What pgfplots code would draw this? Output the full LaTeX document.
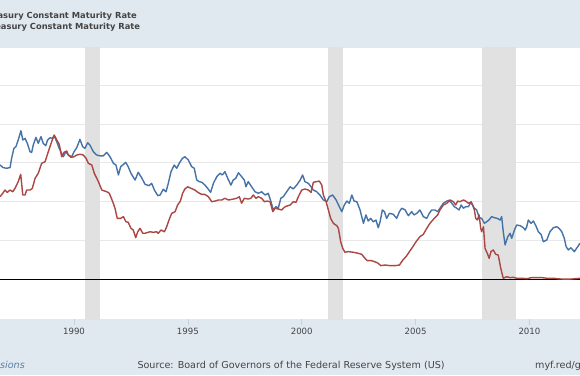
\documentclass[border=0pt]{standalone}
\usepackage{fontspec}
\setmainfont{DejaVu Sans}
\usepackage{pgfplots}
\pgfplotsset{compat=1.18}
\definecolor{band}{HTML}{E1E9F0}
\definecolor{rec}{HTML}{E1E1E1}
\definecolor{blueline}{HTML}{4572A7}
\definecolor{redline}{HTML}{AA4643}
\definecolor{txt}{HTML}{444444}
\definecolor{gridc}{HTML}{E8E8E8}
\definecolor{tickc}{HTML}{C4D0DC}
\definecolor{notec}{HTML}{5A7DA5}
\begin{document}
\begin{tikzpicture}
\useasboundingbox (0,0) rectangle (580pt,375pt);
\clip (0,0) rectangle (580pt,375pt);
\fill[white] (0,0) rectangle (580pt,375pt);
\fill[band] (0,0) rectangle (580pt,56pt);
\fill[band] (0,327.3pt) rectangle (580pt,375pt);
\begin{axis}[
  at={(0pt,56pt)}, anchor=south west,
  scale only axis, width=580pt, height=271.3pt,
  xmin=1986.75, xmax=2012.22, ymin=-2.54, ymax=14.90,
  axis line style={draw=none},
  ytick={0,2.5,5,7.5,10,12.5}, yticklabels={}, ytick pos=left,
  y tick style={draw=none},
  ymajorgrids, grid style={gridc, line width=0.8pt},
  xtick={1990,1995,2000,2005,2010},
  xticklabels={1990,1995,2000,2005,2010},
  xtick pos=bottom, tick align=outside, major tick length=6pt,
  x tick style={draw=tickc, line width=0.6pt},
  xticklabel style={font=\fontsize{8.6}{10}\selectfont, text=txt},
  /pgf/number format/assume math mode=true,
  clip=true,
]
\addplot[draw=none, fill=rec] coordinates {(1990.50,-3) (1990.50,16) (1991.16,16) (1991.16,-3)} -- cycle;
\addplot[draw=none, fill=rec] coordinates {(2001.16,-3) (2001.16,16) (2001.83,16) (2001.83,-3)} -- cycle;
\addplot[draw=none, fill=rec] coordinates {(2007.92,-3) (2007.92,16) (2009.42,16) (2009.42,-3)} -- cycle;
\addplot[black, line width=1.6pt] coordinates {(1986,0) (2013,0)};
\addplot[blueline, line width=1.4pt, line join=round] coordinates {
(1986.75,7.36)(1986.89,7.19)(1987.04,7.15)(1987.19,7.19)(1987.26,7.79)(1987.36,8.43)(1987.45,8.54)(1987.55,8.97)(1987.67,9.56)(1987.75,8.97)(1987.85,9.07)(1987.95,8.75)(1988.07,8.21)(1988.14,8.17)(1988.21,8.64)(1988.33,9.14)(1988.43,8.75)(1988.55,9.18)(1988.65,8.75)(1988.76,8.60)(1988.84,8.97)(1988.95,9.11)(1989.05,9.07)(1989.13,9.24)(1989.24,8.86)(1989.35,8.43)(1989.46,8.11)(1989.53,7.89)(1989.64,8.21)(1989.75,8.00)(1989.90,7.89)(1990.00,8.21)(1990.12,8.47)(1990.26,9.01)(1990.38,8.54)(1990.48,8.43)(1990.60,8.79)(1990.70,8.64)(1990.85,8.21)(1991.00,8.00)(1991.14,7.95)(1991.29,7.95)(1991.44,8.17)(1991.58,7.89)(1991.73,7.47)(1991.84,7.36)(1991.95,6.72)(1992.05,7.25)(1992.14,7.36)(1992.27,7.53)(1992.38,7.25)(1992.50,6.83)(1992.68,6.39)(1992.82,6.89)(1992.97,6.54)(1993.12,6.12)(1993.29,6.03)(1993.41,6.18)(1993.53,5.75)(1993.68,5.39)(1993.78,5.43)(1993.92,5.80)(1994.04,5.64)(1994.14,6.18)(1994.26,6.93)(1994.40,7.36)(1994.51,7.15)(1994.62,7.47)(1994.76,7.79)(1994.87,7.89)(1995.02,7.68)(1995.17,7.25)(1995.28,7.15)(1995.39,6.39)(1995.50,6.29)(1995.61,6.25)(1995.75,6.07)(1995.90,5.80)(1996.00,5.60)(1996.12,6.18)(1996.27,6.61)(1996.41,6.83)(1996.51,6.72)(1996.63,6.93)(1996.75,6.50)(1996.89,6.07)(1996.99,6.39)(1997.10,6.50)(1997.22,6.86)(1997.36,6.61)(1997.48,6.39)(1997.55,5.96)(1997.65,6.29)(1997.80,5.96)(1997.95,5.64)(1998.09,5.54)(1998.24,5.64)(1998.39,5.43)(1998.53,5.54)(1998.65,5.00)(1998.75,4.47)(1998.87,4.68)(1998.97,4.58)(1999.08,5.22)(1999.19,5.32)(1999.34,5.64)(1999.49,5.96)(1999.63,5.82)(1999.78,6.07)(1999.93,6.39)(2000.04,6.72)(2000.14,6.29)(2000.29,6.18)(2000.41,5.96)(2000.51,5.75)(2000.66,5.64)(2000.80,5.43)(2000.95,5.11)(2001.10,5.00)(2001.21,5.32)(2001.36,5.43)(2001.51,5.11)(2001.65,4.68)(2001.76,4.36)(2001.87,4.79)(2001.98,5.04)(2002.09,4.90)(2002.20,5.43)(2002.30,5.04)(2002.42,5.00)(2002.56,4.47)(2002.71,3.61)(2002.82,4.15)(2002.92,3.76)(2003.03,3.93)(2003.14,3.71)(2003.26,3.82)(2003.36,3.33)(2003.44,3.71)(2003.54,4.47)(2003.63,4.36)(2003.73,3.93)(2003.85,4.25)(2004.02,4.19)(2004.17,3.93)(2004.29,4.36)(2004.39,4.58)(2004.54,4.47)(2004.68,4.10)(2004.83,4.36)(2004.93,4.15)(2005.05,4.25)(2005.19,4.47)(2005.34,4.04)(2005.49,3.93)(2005.60,4.25)(2005.71,4.47)(2005.85,4.47)(2005.97,4.36)(2006.07,4.58)(2006.22,4.90)(2006.37,5.04)(2006.47,5.09)(2006.59,4.90)(2006.70,4.68)(2006.81,4.58)(2006.91,4.47)(2007.00,4.79)(2007.10,4.58)(2007.20,4.68)(2007.32,4.68)(2007.44,5.00)(2007.49,4.79)(2007.58,4.58)(2007.68,4.47)(2007.80,3.97)(2007.90,3.93)(2008.02,3.61)(2008.12,3.71)(2008.22,3.82)(2008.34,4.04)(2008.46,3.97)(2008.59,3.93)(2008.71,3.82)(2008.78,4.04)(2008.85,3.07)(2008.93,2.22)(2009.05,2.75)(2009.15,2.97)(2009.22,2.65)(2009.34,3.18)(2009.44,3.50)(2009.59,3.46)(2009.73,3.33)(2009.81,3.18)(2009.88,3.39)(2009.95,3.82)(2010.07,3.61)(2010.17,3.76)(2010.28,3.46)(2010.39,3.07)(2010.51,2.90)(2010.61,2.43)(2010.76,2.54)(2010.90,3.07)(2011.05,3.33)(2011.20,3.39)(2011.30,3.29)(2011.42,3.07)(2011.53,2.65)(2011.61,2.11)(2011.71,1.90)(2011.82,2.04)(2011.97,1.79)(2012.12,2.11)(2012.22,2.33)
};
\addplot[redline, line width=1.4pt, line join=round] coordinates {
(1986.75,5.32)(1986.87,5.54)(1986.97,5.75)(1987.07,5.60)(1987.19,5.75)(1987.31,5.64)(1987.41,5.86)(1987.55,6.29)(1987.66,6.76)(1987.75,5.43)(1987.85,5.43)(1987.92,5.75)(1988.07,5.75)(1988.17,5.86)(1988.29,6.50)(1988.43,6.83)(1988.58,7.47)(1988.73,7.57)(1988.87,8.21)(1989.02,8.86)(1989.13,9.29)(1989.24,8.97)(1989.35,8.69)(1989.46,7.89)(1989.56,8.17)(1989.68,8.26)(1989.75,8.00)(1989.87,7.85)(1990.00,7.89)(1990.12,8.00)(1990.26,8.05)(1990.41,8.00)(1990.53,7.79)(1990.63,7.47)(1990.78,7.36)(1990.89,6.83)(1991.07,6.29)(1991.22,5.75)(1991.44,5.64)(1991.55,5.54)(1991.70,5.00)(1991.80,4.58)(1991.90,3.93)(1992.05,3.93)(1992.17,4.04)(1992.28,3.71)(1992.38,3.68)(1992.50,3.29)(1992.60,3.18)(1992.71,2.69)(1992.80,3.07)(1992.90,3.29)(1993.02,2.97)(1993.12,2.97)(1993.34,3.07)(1993.48,3.03)(1993.63,3.07)(1993.70,2.97)(1993.82,3.18)(1993.97,3.07)(1994.07,3.39)(1994.17,3.82)(1994.29,4.25)(1994.44,4.36)(1994.55,4.79)(1994.67,5.04)(1994.77,5.54)(1994.87,5.82)(1994.99,5.96)(1995.14,5.86)(1995.31,5.75)(1995.46,5.58)(1995.61,5.47)(1995.75,5.47)(1995.90,5.32)(1996.05,5.00)(1996.19,5.04)(1996.34,5.11)(1996.49,5.11)(1996.63,5.22)(1996.78,5.11)(1996.93,5.15)(1997.14,5.22)(1997.26,5.32)(1997.36,4.90)(1997.48,5.22)(1997.65,5.17)(1997.77,5.22)(1997.87,5.43)(1997.99,5.22)(1998.09,5.32)(1998.24,5.22)(1998.36,5.00)(1998.48,5.04)(1998.61,5.00)(1998.73,4.36)(1998.83,4.58)(1998.97,4.53)(1999.12,4.47)(1999.27,4.68)(1999.49,4.79)(1999.63,5.00)(1999.75,4.96)(1999.85,5.32)(2000.00,5.75)(2000.14,5.82)(2000.29,5.75)(2000.41,5.60)(2000.51,6.25)(2000.66,6.29)(2000.77,6.33)(2000.88,6.07)(2000.95,5.43)(2001.07,5.00)(2001.17,4.47)(2001.27,3.93)(2001.39,3.61)(2001.54,3.46)(2001.61,3.29)(2001.71,2.43)(2001.80,2.00)(2001.90,1.75)(2002.05,1.79)(2002.27,1.75)(2002.49,1.68)(2002.63,1.62)(2002.78,1.36)(2002.88,1.21)(2003.07,1.21)(2003.26,1.11)(2003.36,1.04)(2003.47,0.89)(2003.66,0.93)(2003.88,0.89)(2004.10,0.89)(2004.29,0.93)(2004.44,1.25)(2004.58,1.47)(2004.73,1.79)(2004.88,2.11)(2005.02,2.43)(2005.19,2.75)(2005.34,2.90)(2005.49,3.29)(2005.63,3.61)(2005.85,3.98)(2005.97,4.15)(2006.07,4.47)(2006.22,4.79)(2006.37,4.90)(2006.51,5.11)(2006.66,5.00)(2006.76,4.79)(2006.85,5.04)(2006.95,5.00)(2007.10,5.11)(2007.20,5.04)(2007.32,4.90)(2007.44,4.96)(2007.51,4.79)(2007.58,4.47)(2007.64,3.93)(2007.71,3.82)(2007.79,4.15)(2007.86,3.29)(2007.90,3.07)(2007.98,3.39)(2008.05,2.00)(2008.15,1.68)(2008.23,1.36)(2008.31,1.79)(2008.41,1.90)(2008.52,1.62)(2008.63,1.57)(2008.74,0.72)(2008.85,0.08)(2009.00,0.18)(2009.15,0.12)(2009.29,0.14)(2009.44,0.08)(2009.66,0.08)(2009.88,0.05)(2010.10,0.12)(2010.32,0.12)(2010.54,0.12)(2010.76,0.08)(2011.05,0.08)(2011.27,0.04)(2011.56,0.02)(2011.86,0.03)(2012.22,0.08)
};
\end{axis}
\node[anchor=base east, inner sep=0pt, text=txt, font=\bfseries\fontsize{8.35}{10}\selectfont] at (137pt,356.4pt) {10-Year Treasury Constant Maturity Rate};
\node[anchor=base east, inner sep=0pt, text=txt, font=\bfseries\fontsize{8.35}{10}\selectfont] at (140.3pt,345.2pt) {3-Month Treasury Constant Maturity Rate};
\node[anchor=base east, inner sep=0pt, text=notec, font=\itshape\fontsize{9.6}{11}\selectfont] at (25pt,6.7pt) {Shaded areas indicate U.S. recessions};
\node[anchor=base west, inner sep=0pt, text=txt, font=\fontsize{9.6}{11}\selectfont] at (137.3pt,6.7pt) {Source: Board of Governors of the Federal Reserve System (US)};
\node[anchor=base west, inner sep=0pt, text=txt, font=\fontsize{9.6}{11}\selectfont] at (535pt,6.7pt) {myf.red/g/};
\end{tikzpicture}
\end{document}
